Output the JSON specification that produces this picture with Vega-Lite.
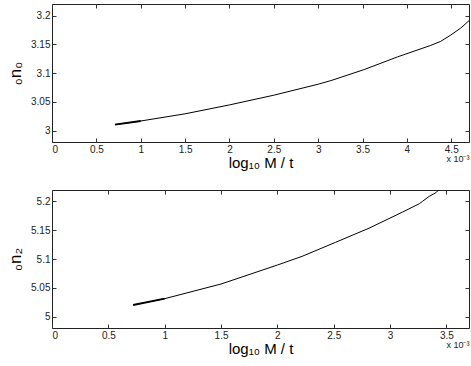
{
  "$schema": "https://vega.github.io/schema/vega-lite/v6.json",
  "padding": {"left": 6, "top": 3, "right": 0, "bottom": 0},
  "background": "white",
  "spacing": 18,
  "config": {
    "font": "Liberation Sans",
    "view": {"stroke": "#222", "strokeWidth": 1},
    "axis": {"labelFont": "Liberation Sans", "labelFontSize": 10, "labelColor": "#222", "titleFont": "Liberation Sans", "titleColor": "#000", "titleFontWeight": "normal", "grid": false, "domain": false, "tickSize": -4, "tickColor": "#333", "labelPadding": 6},
    "title": {"font": "Liberation Sans", "fontWeight": "normal", "fontSize": 9, "color": "#222"}
  },
  "datasets": {
    "top": [
      {"x": 0.71, "y": 3.0104},
      {"x": 1.0, "y": 3.0165},
      {"x": 1.5, "y": 3.029},
      {"x": 2.0, "y": 3.0445},
      {"x": 2.5, "y": 3.0614},
      {"x": 3.0, "y": 3.0805},
      {"x": 3.144, "y": 3.0868},
      {"x": 3.519, "y": 3.106},
      {"x": 3.894, "y": 3.128},
      {"x": 4.269, "y": 3.148},
      {"x": 4.381, "y": 3.155},
      {"x": 4.494, "y": 3.166},
      {"x": 4.606, "y": 3.178},
      {"x": 4.7, "y": 3.191}
    ],
    "bottom": [
      {"x": 0.72, "y": 5.02},
      {"x": 1.0, "y": 5.031},
      {"x": 1.5, "y": 5.0565},
      {"x": 2.0, "y": 5.0895},
      {"x": 2.22, "y": 5.1047},
      {"x": 2.516, "y": 5.129},
      {"x": 2.813, "y": 5.1536},
      {"x": 3.109, "y": 5.1815},
      {"x": 3.258, "y": 5.196},
      {"x": 3.287, "y": 5.2002},
      {"x": 3.347, "y": 5.209},
      {"x": 3.406, "y": 5.2153},
      {"x": 3.44, "y": 5.222}
    ]
  },
  "vconcat": [
    {
      "width": 417,
      "height": 138,
      "title": {"text": "x 10⁻³", "orient": "bottom", "anchor": "end", "offset": -15},
      "data": {"name": "top"},
      "layer": [
        {
          "mark": {"type": "line", "color": "#000", "strokeWidth": 1, "clip": true},
          "encoding": {
            "x": {"field": "x", "type": "quantitative", "scale": {"domain": [0, 4.7], "nice": false}, "axis": {"orient": "bottom", "values": [0, 0.5, 1, 1.5, 2, 2.5, 3, 3.5, 4, 4.5], "format": ".1~f", "title": "log₁₀ M / t", "titleFontSize": 15, "titlePadding": 1}},
            "y": {"field": "y", "type": "quantitative", "scale": {"domain": [2.98, 3.22], "nice": false, "zero": false}, "axis": {"orient": "left", "values": [3, 3.05, 3.1, 3.15, 3.2], "format": ".2~f", "title": "₀n₀", "titleFontSize": 17, "titlePadding": 6}}
          }
        },
        {
          "transform": [{"filter": "datum.x <= 1"}],
          "mark": {"type": "line", "color": "#000", "strokeWidth": 1.8, "clip": true},
          "encoding": {
            "x": {"field": "x", "type": "quantitative", "axis": {"orient": "top", "values": [0, 0.5, 1, 1.5, 2, 2.5, 3, 3.5, 4, 4.5], "labels": false, "title": null}},
            "y": {"field": "y", "type": "quantitative", "axis": {"orient": "right", "values": [3, 3.05, 3.1, 3.15, 3.2], "labels": false, "title": null}}
          }
        }
      ]
    },
    {
      "width": 417,
      "height": 138,
      "title": {"text": "x 10⁻³", "orient": "bottom", "anchor": "end", "offset": -15},
      "data": {"name": "bottom"},
      "layer": [
        {
          "mark": {"type": "line", "color": "#000", "strokeWidth": 1, "clip": true},
          "encoding": {
            "x": {"field": "x", "type": "quantitative", "scale": {"domain": [0, 3.7], "nice": false}, "axis": {"orient": "bottom", "values": [0, 0.5, 1, 1.5, 2, 2.5, 3, 3.5], "format": ".1~f", "title": "log₁₀ M / t", "titleFontSize": 15, "titlePadding": 1}},
            "y": {"field": "y", "type": "quantitative", "scale": {"domain": [4.98, 5.22], "nice": false, "zero": false}, "axis": {"orient": "left", "values": [5, 5.05, 5.1, 5.15, 5.2], "format": ".2~f", "title": "₀n₂", "titleFontSize": 17, "titlePadding": 6}}
          }
        },
        {
          "transform": [{"filter": "datum.x <= 1"}],
          "mark": {"type": "line", "color": "#000", "strokeWidth": 1.8, "clip": true},
          "encoding": {
            "x": {"field": "x", "type": "quantitative", "axis": {"orient": "top", "values": [0, 0.5, 1, 1.5, 2, 2.5, 3, 3.5], "labels": false, "title": null}},
            "y": {"field": "y", "type": "quantitative", "axis": {"orient": "right", "values": [5, 5.05, 5.1, 5.15, 5.2], "labels": false, "title": null}}
          }
        }
      ]
    }
  ]
}
